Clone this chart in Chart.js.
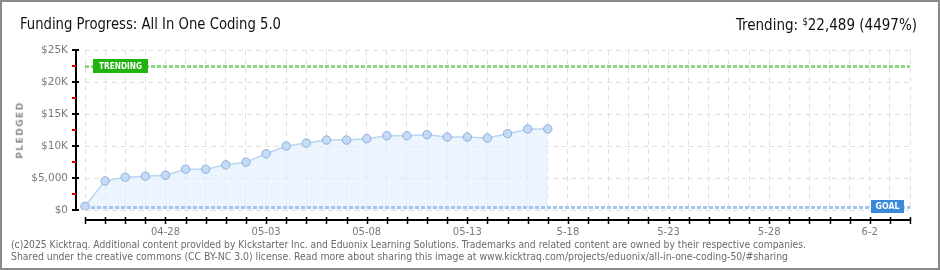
<!DOCTYPE html>
<html>
<head>
<meta charset="utf-8">
<script src="https://cdn.jsdelivr.net/npm/chart.js@4.4.1/dist/chart.umd.min.js"></script>
<style>
  html, body { margin: 0; padding: 0; background: #fff; }
  #wrap { position: relative; width: 940px; height: 270px; box-sizing: border-box; border: 2px solid #8a8a8a; overflow: hidden; background: #fff; }
  canvas { position: absolute; left: -2px; top: -2px; }
  .txt { position: absolute; white-space: nowrap; transform-origin: 0 0; }
  #title { left: 18px; top: 14px; font: 16px "DejaVu Sans Condensed", "DejaVu Sans", sans-serif; color: #111; line-height: 16px; }
  #trend { top: 12px; font: 16px "DejaVu Sans Condensed", "DejaVu Sans", sans-serif; color: #111; line-height: 16px; }
  #trend sup { font-size: 10px; vertical-align: 5px; }
  .foot { left: 9px; font: 10px "DejaVu Sans Condensed", "DejaVu Sans", sans-serif; color: #6a6a6a; line-height: 11px; }
  #f1 { top: 237px; }
  #f2 { top: 249px; }
  #pledged { left: 0; top: 0; font: bold 9px "DejaVu Sans", sans-serif; color: #8a8a8a; letter-spacing: 1.5px; transform-origin: 50% 50%; }
</style>
</head>
<body>
<div id="wrap">
  <canvas id="c" width="940" height="270"></canvas>
  <div class="txt" id="title" data-w="261">Funding Progress: All In One Coding 5.0</div>
  <div class="txt" id="trend" data-w="181" data-right="917">Trending: <sup>$</sup>22,489 (4497%)</div>
  <div class="txt foot" id="f1" data-w="795">(c)2025 Kicktraq. Additional content provided by Kickstarter Inc. and Eduonix Learning Solutions. Trademarks and related content are owned by their respective companies.</div>
  <div class="txt foot" id="f2" data-w="777">Shared under the creative commons (CC BY-NC 3.0) license. Read more about sharing this image at www.kicktraq.com/projects/eduonix/all-in-one-coding-50/#sharing</div>
  <div class="txt" id="pledged">PLEDGED</div>
</div>
<script>
// ---- data ----
const days = ['04-24','04-25','04-26','04-27','04-28','04-29','04-30','05-01','05-02','05-03',
              '05-04','05-05','05-06','05-07','05-08','05-09','05-10','05-11','05-12','05-13',
              '05-14','05-15','05-16','05-17','05-18','05-19','05-20','05-21','05-22','05-23',
              '05-24','05-25','05-26','05-27','05-28','05-29','05-30','05-31','06-01','06-02',
              '06-03','06-04'];
const pledged = [580, 4550, 5130, 5280, 5440, 6380, 6380, 7060, 7480, 8790,
                 9990, 10460, 10930, 10930, 11140, 11610, 11610, 11770, 11400, 11400,
                 11250, 11930, 12660, 12660];
const tickDays = ['04-28','05-03','05-08','05-13','05-18','05-23','05-28','06-02'];
const tickText = ['04-28','05-03','05-08','05-13','5-18','5-23','5-28','6-2'];
const yTickValues = [0, 5000, 10000, 15000, 20000, 25000];
const yTickText = ['$0', '$5,000', '$10K', '$15K', '$20K', '$25K'];
const goal = 500;
const trending = 22489;

// ---- plugin: axes, goal / trending lines and labels ----
function dotted(ctx, x1, x2, y, color) {
  ctx.save();
  ctx.beginPath();
  ctx.setLineDash([4, 2]);
  ctx.lineWidth = 3;
  ctx.strokeStyle = color;
  ctx.moveTo(x1, y); ctx.lineTo(x2, y);
  ctx.stroke();
  ctx.restore();
}
function tag(ctx, x, y, w, h, bg, text, textW) {
  ctx.save();
  ctx.fillStyle = bg;
  ctx.fillRect(x, y, w, h);
  ctx.fillStyle = '#fff';
  ctx.font = 'bold 9px "DejaVu Sans", sans-serif';
  ctx.textBaseline = 'middle';
  ctx.textAlign = 'left';
  const mw = ctx.measureText(text).width;
  const sx = textW / mw;
  ctx.translate(x + (w - textW) / 2, y + h / 2 + 0.5);
  ctx.scale(sx, 1);
  ctx.fillText(text, 0, 0);
  ctx.restore();
}
const kickPlugin = {
  id: 'kick',
  beforeDatasetsDraw(chart) {
    const { ctx, chartArea: a, scales: { y } } = chart;
    dotted(ctx, a.left, a.right, Math.round(y.getPixelForValue(trending)) + 0.5, '#8ed682');
    dotted(ctx, a.left, a.right, Math.round(y.getPixelForValue(goal)) + 0.5, '#a6c7ec');
  },
  afterDraw(chart) {
    const { ctx, chartArea: a, scales: { x, y } } = chart;
    const ax = a.left - 9;
    ctx.save();
    // y axis
    ctx.strokeStyle = '#000';
    ctx.lineWidth = 2;
    ctx.beginPath();
    ctx.moveTo(ax, y.getPixelForValue(25000) - 1);
    ctx.lineTo(ax, y.getPixelForValue(0) + 1);
    ctx.stroke();
    y.ticks.forEach(t => {
      const py = Math.round(y.getPixelForValue(t.value));
      ctx.beginPath();
      if (t.value % 5000 === 0) {
        ctx.strokeStyle = '#000';
        ctx.moveTo(ax - 4, py); ctx.lineTo(ax + 3, py);
      } else {
        ctx.strokeStyle = '#e00000';
        ctx.moveTo(ax - 4, py); ctx.lineTo(ax, py);
      }
      ctx.stroke();
    });
    // x axis
    const ay = a.bottom + 10;
    ctx.strokeStyle = '#000';
    ctx.lineWidth = 2;
    ctx.beginPath();
    ctx.moveTo(x.getPixelForValue(0), ay);
    ctx.lineTo(x.getPixelForValue(days.length - 1) + 1, ay);
    ctx.stroke();
    ctx.lineWidth = 1.5;
    days.forEach((d, i) => {
      const px = Math.round(x.getPixelForValue(i)) + 0.5;
      ctx.beginPath();
      ctx.moveTo(px, ay - 3); ctx.lineTo(px, ay + 4);
      ctx.stroke();
    });
    ctx.restore();
    // labels
    const ty = y.getPixelForValue(trending);
    tag(ctx, a.left + 8, Math.round(ty) - 7, 55, 14, '#22b20e', 'TRENDING', 43);
    const gy = y.getPixelForValue(goal);
    tag(ctx, a.right - 39, Math.round(gy) - 7, 33, 13, '#3b89d9', 'GOAL', 24);
  }
};

const gridFont = { family: '"DejaVu Sans", sans-serif', size: 10 };

new Chart(document.getElementById('c'), {
  type: 'line',
  data: {
    labels: days,
    datasets: [{
      data: pledged,
      borderColor: '#bad6f3',
      borderWidth: 1.5,
      backgroundColor: 'rgba(226,238,252,0.65)',
      fill: 'origin',
      tension: 0,
      pointRadius: 4.2,
      pointBorderWidth: 1,
      pointBackgroundColor: '#c3dbf7',
      pointBorderColor: '#8eaed6'
    }]
  },
  options: {
    responsive: false,
    animation: false,
    devicePixelRatio: 1,
    layout: { padding: { top: 50, right: 30, left: 0, bottom: 0 } },
    plugins: {
      legend: { display: false },
      tooltip: { enabled: false },
      filler: { drawTime: 'beforeDatasetsDraw' }
    },
    scales: {
      x: {
        type: 'category',
        offset: false,
        grid: { color: '#e0e0e0', lineWidth: 1, drawTicks: false, tickLength: 0 },
        border: { display: false, dash: [5, 4] },
        ticks: {
          autoSkip: false, maxRotation: 0, minRotation: 0, padding: 16,
          color: '#7a7a7a', font: gridFont,
          callback: function(v, i) { const k = tickDays.indexOf(days[i]); return k >= 0 ? tickText[k] : ''; }
        },
        afterFit: s => { s.height = 60; }
      },
      y: {
        min: 0, max: 25000,
        grid: {
          color: c => (c.tick && c.tick.value % 5000 === 0) ? '#e0e0e0' : 'rgba(0,0,0,0)',
          lineWidth: 1, drawTicks: false, tickLength: 0
        },
        border: { display: false, dash: [5, 4] },
        ticks: {
          stepSize: 2500, autoSkip: false, padding: 17,
          color: '#7a7a7a', font: { family: '"DejaVu Sans", sans-serif', size: 10.5 },
          callback: v => { const k = yTickValues.indexOf(v); return k >= 0 ? yTickText[k] : ''; }
        },
        afterFit: s => { s.width = 85; }
      }
    }
  },
  plugins: [kickPlugin]
});

// fit html texts to measured widths
document.querySelectorAll('.txt[data-w]').forEach(el => {
  const w = el.getBoundingClientRect().width;
  const target = +el.dataset.w;
  el.style.transform = 'scaleX(' + (target / w) + ')';
  if (el.dataset.right) el.style.left = (+el.dataset.right - target - 2) + 'px';
});
const p = document.getElementById('pledged');
const pr = p.getBoundingClientRect();
p.style.left = (20 - 2 - pr.width / 2) + 'px';
p.style.top = (130 - 2 - pr.height / 2) + 'px';
p.style.transform = 'rotate(-90deg)';
</script>
</body>
</html>
